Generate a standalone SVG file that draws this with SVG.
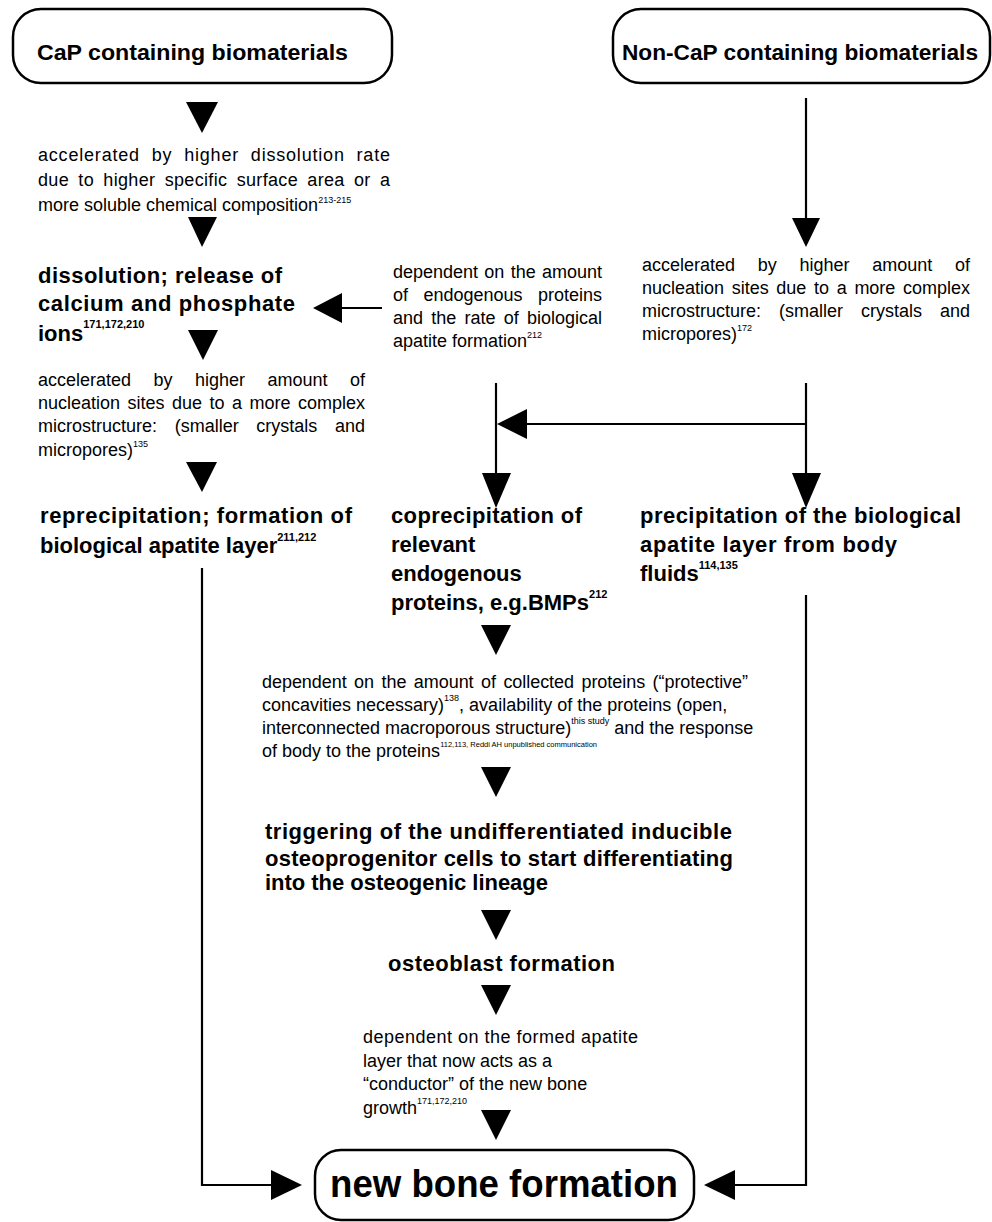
<svg xmlns="http://www.w3.org/2000/svg" width="992" height="1222" viewBox="0 0 992 1222">
<style>
text{font-family:"Liberation Sans",Arial,sans-serif;fill:#000}
.r{font-size:18px}
.b{font-size:22px;font-weight:bold}
.s{font-size:9px;font-weight:normal}
.ss{font-size:7.5px;font-weight:normal}
.bs{font-size:11px;font-weight:bold}
.big{font-size:38px;font-weight:bold}
.box{fill:#fff;stroke:#000;stroke-width:2.5}
.ln{fill:none;stroke:#000;stroke-width:2.2}
.tri{fill:#000}
</style>
<rect width="992" height="1222" fill="#fff"/>
<g id="connectors">
<polygon class="tri" points="186,102 218,102 202,133"/>
<polygon class="tri" points="188,217 217,217 202,247"/>
<polygon class="tri" points="188,330 218,330 203,360"/>
<polygon class="tri" points="186,462 217,462 202,492"/>
<line class="ln" x1="806" y1="98" x2="806" y2="219"/>
<polygon class="tri" points="792,218 820,218 806,247"/>
<line class="ln" x1="382" y1="308" x2="340" y2="308"/>
<polygon class="tri" points="342,293 342,323 313,308"/>
<line class="ln" x1="806" y1="383" x2="806" y2="474"/>
<polygon class="tri" points="792,473 821,473 806,508"/>
<line class="ln" x1="806" y1="424" x2="525" y2="424"/>
<polygon class="tri" points="527,409 527,439 497,424"/>
<line class="ln" x1="496" y1="383" x2="496" y2="474"/>
<polygon class="tri" points="482,473 511,473 496,508"/>
<polygon class="tri" points="481,625 511,625 496,655"/>
<polygon class="tri" points="481,767 511,767 496,797"/>
<polygon class="tri" points="481,910 511,910 496,940"/>
<polygon class="tri" points="481,985 511,985 496,1015"/>
<polygon class="tri" points="481,1110 511,1110 496,1140"/>
<polyline class="ln" points="202,568 202,1185 273,1185"/>
<polygon class="tri" points="271,1170 271,1200 302,1185"/>
<polyline class="ln" points="806,595 806,1185 733,1185"/>
<polygon class="tri" points="735,1170 735,1200 704,1185"/>
</g>
<g id="cap-box">
<rect class="box" x="13" y="9" width="379" height="74" rx="28"/>
<text class="b" x="37" y="60" textLength="311" lengthAdjust="spacingAndGlyphs">CaP containing biomaterials</text>
</g>
<g id="noncap-box">
<rect class="box" x="613" y="9" width="377" height="74" rx="28"/>
<text class="b" x="622" y="60" textLength="356" lengthAdjust="spacingAndGlyphs">Non-CaP containing biomaterials</text>
</g>
<g id="note-dissolution-rate">
<text class="r" x="38" y="161" word-spacing="6" textLength="352">accelerated by higher dissolution rate</text>
<text class="r" x="38" y="186" word-spacing="4" textLength="352">due to higher specific surface area or a</text>
<text class="r" x="38" y="211">more soluble chemical composition<tspan class="s" dy="-8">213-215</tspan></text>
</g>
<g id="dissolution">
<text class="b" x="38" y="283" textLength="244">dissolution; release of</text>
<text class="b" x="38" y="311" textLength="257">calcium and phosphate</text>
<text class="b" x="38" y="341">ions<tspan class="bs" dy="-13">171,172,210</tspan></text>
</g>
<g id="note-nucleation-left">
<text class="r" x="38" y="386" word-spacing="17.5" textLength="327">accelerated by higher amount of</text>
<text class="r" x="38" y="409" word-spacing="2.5" textLength="327">nucleation sites due to a more complex</text>
<text class="r" x="38" y="432" word-spacing="12.7" textLength="327">microstructure: (smaller crystals and</text>
<text class="r" x="38" y="456">micropores)<tspan class="s" dy="-9">135</tspan></text>
</g>
<g id="reprecipitation">
<text class="b" x="40" y="523" textLength="312">reprecipitation; formation of</text>
<text class="b" x="40" y="553">biological apatite layer<tspan class="bs" dy="-12">211,212</tspan></text>
</g>
<g id="note-endogenous">
<text class="r" x="393" y="278" word-spacing="1.3" textLength="209">dependent on the amount</text>
<text class="r" x="393" y="301" word-spacing="10.5" textLength="209">of endogenous proteins</text>
<text class="r" x="393" y="324" word-spacing="3.2" textLength="209">and the rate of biological</text>
<text class="r" x="393" y="347">apatite formation<tspan class="s" dy="-9">212</tspan></text>
</g>
<g id="note-nucleation-right">
<text class="r" x="642" y="271" word-spacing="17.7" textLength="328">accelerated by higher amount of</text>
<text class="r" x="642" y="294" word-spacing="2.7" textLength="328">nucleation sites due to a more complex</text>
<text class="r" x="642" y="317" word-spacing="13" textLength="328">microstructure: (smaller crystals and</text>
<text class="r" x="642" y="340">micropores)<tspan class="s" dy="-9">172</tspan></text>
</g>
<g id="coprecipitation">
<text class="b" x="391" y="523" textLength="191">coprecipitation of</text>
<text class="b" x="391" y="552">relevant</text>
<text class="b" x="391" y="581">endogenous</text>
<text class="b" x="391" y="610">proteins, e.g.BMPs<tspan class="bs" dy="-12">212</tspan></text>
</g>
<g id="precipitation">
<text class="b" x="640" y="523" textLength="321">precipitation of the biological</text>
<text class="b" x="640" y="552" textLength="257">apatite layer from body</text>
<text class="b" x="640" y="581">fluids<tspan class="bs" dy="-12">114,135</tspan></text>
</g>
<g id="note-proteins">
<text class="r" x="262" y="688" word-spacing="2.5" textLength="486">dependent on the amount of collected proteins (“protective”</text>
<text class="r" x="262" y="711">concavities necessary)<tspan class="s" dy="-10">138</tspan><tspan dy="10">, availability of the proteins (open,</tspan></text>
<text class="r" x="262" y="734">interconnected macroporous structure)<tspan class="s" dy="-10">this study</tspan><tspan dy="10"> and the response</tspan></text>
<text class="r" x="262" y="757">of body to the proteins<tspan class="ss" dy="-10">112,113, Reddi AH unpublished communication</tspan></text>
</g>
<g id="triggering">
<text class="b" x="265" y="839" textLength="467">triggering of the undifferentiated inducible</text>
<text class="b" x="265" y="866" textLength="468">osteoprogenitor cells to start differentiating</text>
<text class="b" x="265" y="890" textLength="283">into the osteogenic lineage</text>
</g>
<g id="osteoblast">
<text class="b" x="388" y="971" textLength="227">osteoblast formation</text>
</g>
<g id="note-conductor">
<text class="r" x="363" y="1043" textLength="275">dependent on the formed apatite</text>
<text class="r" x="363" y="1067">layer that now acts as a</text>
<text class="r" x="363" y="1090">“conductor” of the new bone</text>
<text class="r" x="363" y="1114">growth<tspan class="s" dy="-10">171,172,210</tspan></text>
</g>
<g id="new-bone-box">
<rect class="box" x="315" y="1150" width="379" height="70" rx="26"/>
<text class="big" x="330" y="1197" textLength="348" lengthAdjust="spacingAndGlyphs">new bone formation</text>
</g>
</svg>
